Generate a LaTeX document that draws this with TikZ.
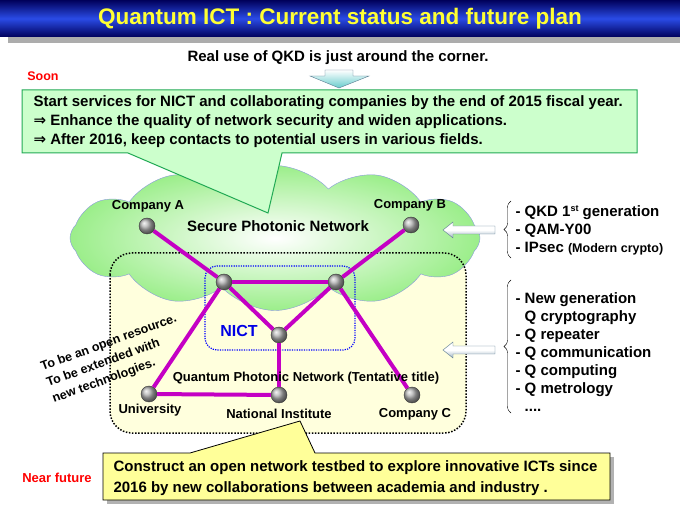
\documentclass[tikz,border=0pt]{standalone}
\usepackage{fontspec}
\setmainfont{Liberation Sans}
\newfontfamily\symbolfont{DejaVu Sans}
\usetikzlibrary{shapes.symbols,decorations.pathreplacing}
\definecolor{navy}{HTML}{00005A}
\definecolor{titleblue}{HTML}{2A4BE6}
\definecolor{titleyellow}{HTML}{FFFF33}
\definecolor{notegreen}{HTML}{CCFFCC}
\definecolor{notegreenline}{HTML}{22AA55}
\definecolor{cloudgreen}{HTML}{9BEE8A}
\definecolor{cloudline}{HTML}{8899DD}
\definecolor{qpnyellow}{HTML}{FFFFDD}
\definecolor{linkpurple}{HTML}{C400C4}
\definecolor{noteyellow}{HTML}{FFFF99}
\definecolor{arrowfill}{HTML}{9FB4C4}
\definecolor{arrowline}{HTML}{5A7A90}
\definecolor{downfill}{HTML}{66CCCC}
\newcommand{\thento}{{\symbolfont\bfseries ⇒}}
\begin{document}
\begin{tikzpicture}[x=1pt,y=-1pt,
    txt/.style={font=\bfseries\fontsize{15}{18}\selectfont},
    lbl/.style={font=\bfseries\fontsize{13}{15}\selectfont},
    ball/.style={circle,minimum size=16pt,inner sep=0pt,ball color=gray!60,draw=gray!45!black,thin},
    link/.style={draw=linkpurple,line width=4pt},
    redlbl/.style={font=\bfseries\fontsize{13}{15}\selectfont,text=red}]
    \useasboundingbox (0,0) rectangle (680,510);

    \shade[top color=navy,bottom color=navy,middle color=titleblue] (0,0) rectangle (680,37);
    \fill[gray!65] (8,37) rectangle (680,43);
    \node[font=\bfseries\fontsize{22.5}{26}\selectfont,text=titleyellow] (title) at (340,19) {Quantum ICT : Current status and future plan};

    \node[txt] (soonuse) at (338,58) {Real use of QKD is just around the corner.};
    \node[redlbl,font=\bfseries\fontsize{12.5}{15}\selectfont] (soon) at (43,76) {Soon};
    \shade[top color=white,bottom color=downfill,draw=arrowline] (325,70) -- (353,70) -- (353,76) -- (369,76) -- (339,88) -- (310,76) -- (325,76) -- cycle;

    \fill[qpnyellow,rounded corners=22pt] (110,253) rectangle (466,433);
    \node[cloud,cloud puffs=12,cloud puff arc=95,aspect=2.9,minimum width=410pt,minimum height=145pt,draw=cloudline,inner color=white,outer color=cloudgreen] (spn) at (275,238) {};
    \draw[dash pattern=on 1.5pt off 1.6pt,line width=1.5pt,rounded corners=22pt] (110,253) rectangle (466,433);
    \draw[blue,dash pattern=on 1.2pt off 1.2pt,line width=1.2pt,rounded corners=12pt] (205,266) rectangle (355,350);

    \node[font=\bfseries\fontsize{15}{18}\selectfont] (spn-l) at (278,226) {Secure Photonic Network};
    \node[font=\bfseries\fontsize{16}{18}\selectfont,text=blue!90!black] (nict-l) at (239,331) {NICT};

    \node[ball] (ca) at (147,226) {};
    \node[ball] (cb) at (411,225) {};
    \node[ball] (n1) at (224,282) {};
    \node[ball] (n2) at (336,282) {};
    \node[ball] (nict) at (279,335) {};
    \node[ball] (uni) at (149,394) {};
    \node[ball] (ni) at (279,395) {};
    \node[ball] (cc) at (412,395) {};

    \draw[link] (ca) -- (n1);
    \draw[link] (cb) -- (n2);
    \draw[link] (n1) -- (n2);
    \draw[link] (n1) -- (nict);
    \draw[link] (n2) -- (nict);
    \draw[link] (n1) -- (uni);
    \draw[link] (uni) -- (ni);
    \draw[link] (nict) -- (ni);
    \draw[link] (n2) -- (cc);

    \node[lbl] (qpn-l) at (306,378) {Quantum Photonic Network (Tentative title)};
    \node[lbl] (ca-l) at (148,206) {Company A};
    \node[lbl] (cb-l) at (410,205) {Company B};
    \node[lbl] (uni-l) at (150,410) {University};
    \node[lbl] (ni-l) at (279,414) {National Institute};
    \node[lbl] (cc-l) at (415,414) {Company C};

    \node[lbl,rotate=20,anchor=west,align=left,font=\bfseries\fontsize{12.5}{17}\selectfont] (open-l) at (44,385) {To be an open resource.\\To be extended with\\new technologies.};

    \shade[top color=white,bottom color=arrowfill,middle color=white,draw=arrowline] (443,230) -- (453,222) -- (453,226) -- (495,226) -- (495,234) -- (453,234) -- (453,238) -- cycle;
    \shade[top color=white,bottom color=arrowfill,middle color=white,draw=arrowline] (443,350) -- (453,342) -- (453,346) -- (495,346) -- (495,354) -- (453,354) -- (453,358) -- cycle;
    \draw[decorate,decoration={brace,amplitude=7pt}] (511,258) -- (511,201);
    \draw[decorate,decoration={brace,amplitude=7pt}] (511,413) -- (511,280);
    \node[txt,anchor=west,align=left,font=\bfseries\fontsize{15}{18}\selectfont] (sec-list) at (512,230) {- QKD 1{\fontsize{9}{9}\selectfont\raisebox{4.5pt}{st}} generation\\- QAM-Y00\\- IPsec {\fontsize{12.5}{18}\selectfont (Modern crypto)}};
    \node[txt,anchor=west,align=left,font=\bfseries\fontsize{15}{18}\selectfont] (q-list) at (512,352) {- New generation\\\phantom{- }Q cryptography\\- Q repeater\\- Q communication\\- Q computing\\- Q metrology\\\phantom{- }....};

    \filldraw[fill=notegreen,draw=notegreenline,line width=1pt] (22,90) -- (637,90) -- (637,153) -- (282,153) -- (268,213) -- (128,153) -- (22,153) -- cycle;
    \node[txt,anchor=west,align=left,font=\bfseries\fontsize{15}{19}\selectfont] (plan) at (30,122) {Start services for NICT and collaborating companies by the end of 2015 fiscal year.\\\thento{} Enhance the quality of network security and widen applications.\\\thento{} After 2016, keep contacts to potential users in various fields.};

    \fill[gray!60] (107,457) rectangle (614,504);
    \filldraw[fill=noteyellow,draw=black,line width=0.8pt] (103,453) -- (190,453) -- (300,421) -- (315,453) -- (610,453) -- (610,500) -- (103,500) -- cycle;
    \node[txt,anchor=west,align=left,font=\bfseries\fontsize{15}{21}\selectfont] (testbed) at (110,478) {Construct an open network testbed to explore innovative ICTs since\\2016 by new collaborations between academia and industry .};
    \node[redlbl] (future) at (57,478) {Near future};
\end{tikzpicture}
\end{document}
